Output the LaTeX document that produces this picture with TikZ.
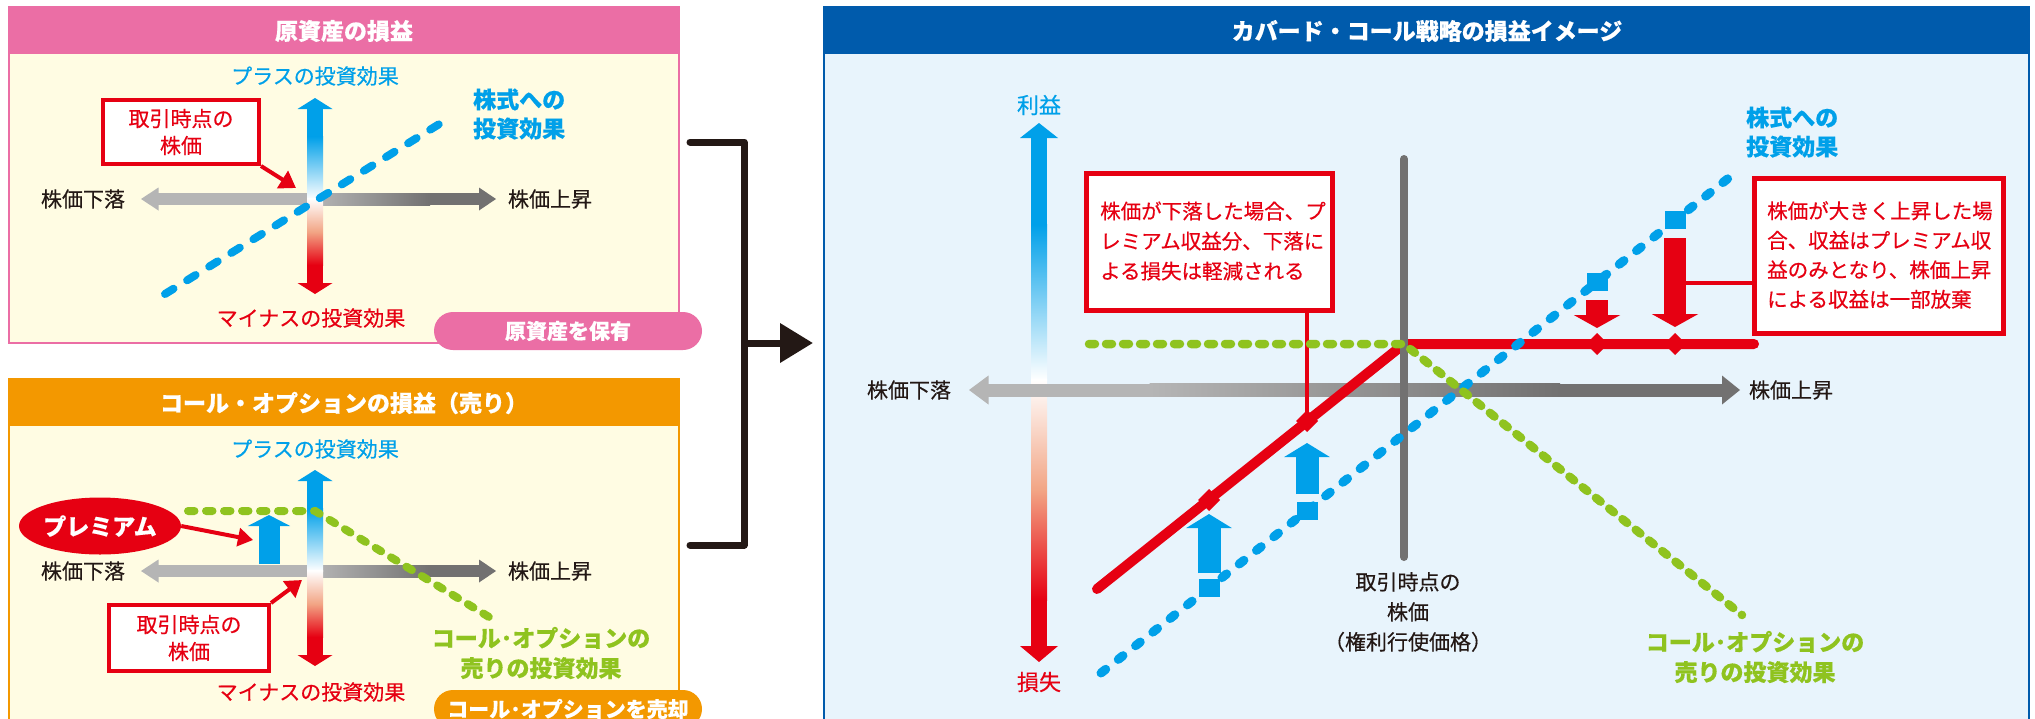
\documentclass[tikz,border=0pt]{standalone}
\usepackage{fontspec}
\setmainfont{Noto Sans CJK JP}[FakeBold=0.4]
\usetikzlibrary{arrows.meta,shapes.geometric,calc}
\definecolor{cpink}{HTML}{EB6EA5}
\definecolor{corange}{HTML}{F39800}
\definecolor{cyellow}{HTML}{FFFCE3}
\definecolor{ccyan}{HTML}{00A0E9}
\definecolor{cred}{HTML}{E60012}
\definecolor{cgreen}{HTML}{8FC31F}
\definecolor{cnavy}{HTML}{005BAC}
\definecolor{clblue}{HTML}{E8F4FC}
\definecolor{cdark}{HTML}{231815}
\definecolor{cgray}{HTML}{727171}
\definecolor{clgray}{HTML}{B5B5B5}
\definecolor{cpeach}{HTML}{F2A585}
\tikzset{
  lbl/.style={inner sep=0pt, font=\fontsize{21}{26}\selectfont},
  ttl/.style={inner sep=0pt, text=white, font=\fontsize{23}{26}\selectfont\bfseries},
  bld/.style={inner sep=0pt, font=\fontsize{23}{29}\selectfont\bfseries},
  callout/.style={draw=cred, fill=white, line width=4pt, inner sep=0pt},
  bdash/.style={draw=ccyan, line width=8pt, line cap=round, dash pattern=on 10pt off 16pt},
  gdash/.style={draw=cgreen, line width=8pt, line cap=round, dash pattern=on 6.5pt off 11.5pt},
  bdashR/.style={draw=ccyan, line width=9pt, line cap=round, dash pattern=on 6pt off 16pt},
  gdashR/.style={draw=cgreen, line width=8.5pt, line cap=round, dash pattern=on 6pt off 11pt},
  pill/.style={rounded corners=19pt, inner sep=0pt, minimum width=268pt, minimum height=38pt, text=white, font=\fontsize{21}{26}\selectfont\bfseries},
}
\newcommand{\smallaxes}[1]{%
\begin{scope}[shift={(0,#1)}]
 \fill[clgray] (158,-6) rectangle (315,6);
 \shade[left color=clgray, right color=cgray] (315,-6) rectangle (430,6);
 \fill[cgray] (429.5,-6) rectangle (480,6);
 \fill[clgray] (141,0) -- (158.5,-11.5) -- (158.5,11.5) -- cycle;
 \fill[cgray] (496,0) -- (479,-11.5) -- (479,11.5) -- cycle;
 \fill[ccyan] (315,-101) -- (332.5,-90) -- (297.5,-90) -- cycle;
 \fill[ccyan] (307,-90.5) rectangle (323,-62);
 \shade[top color=ccyan, bottom color=white] (307,-62.5) rectangle (323,0);
 \shade[top color=white, bottom color=cred, middle color=cpeach] (307,-0.5) rectangle (323,66);
 \fill[cred] (307,65.5) rectangle (323,84.5);
 \fill[cred] (315,95) -- (332.5,84) -- (297.5,84) -- cycle;
\end{scope}}
\begin{document}
\begin{tikzpicture}[x=1pt,y=-1pt]
\useasboundingbox (0,0) rectangle (2035,718);
\clip (0,0) rectangle (2035,718);
\fill[white] (0,0) rectangle (2035,718);

%% ---------------- Panel A ----------------
\fill[cyellow] (9,7) rectangle (679,343);
\fill[cpink] (9,7) rectangle (679,54);
\draw[cpink, line width=1.5pt] (9,7) rectangle (679,343);
\node[ttl] (tA) at (344,31) {原資産の損益};
\smallaxes{199}
\node[lbl, text=ccyan] (pA) at (315,76) {プラスの投資効果};
\node[lbl, text=cred] (mA) at (311,318) {マイナスの投資効果};
\node[lbl, text=cdark] (dA) at (83,199) {株価下落};
\node[lbl, text=cdark] (uA) at (550,199) {株価上昇};
\coordinate (sA1) at (165,294);
\coordinate (sA2) at (449,118);
\draw[bdash] (sA1) -- (sA2);
\node[bld, text=ccyan, align=left, anchor=west] (eA) at (473,114) {株式への\\投資効果};
\node[callout, minimum width=156pt, minimum height=64pt] (cA) at (181,132) {};
\node[lbl, text=cred, align=center, font=\fontsize{21}{27}\selectfont] (cAt) at (cA) {取引時点の\\株価};
\coordinate (cAtip) at (296,188);
\draw[cred, line width=4pt, -{Triangle[length=16pt,width=20pt]}] (cA.south east) -- (cAtip);
\node[pill, fill=cpink] (hA) at (568,331) {原資産を保有};

%% ---------------- Panel B ----------------
\fill[cyellow] (9,379) rectangle (679,740);
\fill[corange] (9,379) rectangle (679,426);
\draw[corange, line width=1.5pt] (9,379) rectangle (679,740);
\node[ttl] (tB) at (344,403) {コール・オプションの損益（売り）};
\smallaxes{571}
\node[lbl, text=ccyan] (pB) at (315,449) {プラスの投資効果};
\node[lbl, text=cred] (mB) at (311,692) {マイナスの投資効果};
\node[lbl, text=cdark] (dB) at (83,571) {株価下落};
\node[lbl, text=cdark] (uB) at (550,571) {株価上昇};
\coordinate (gB1) at (188,511);
\coordinate (gB2) at (315,511);
\coordinate (gB3) at (489,617);
\draw[gdash] (gB1) -- (gB2) -- (gB3);
\coordinate (upB1) at (269,564);
\coordinate (upB2) at (269,515);
\draw[ccyan, line width=21pt, -{Triangle[length=11pt,width=42pt]}] (upB1) -- (upB2);
\node[ellipse, fill=cred, minimum width=162pt, minimum height=57pt, inner sep=0pt, text=white, font=\fontsize{23}{26}\selectfont\bfseries] (prem) at (100,526) {プレミアム};
\coordinate (premtip) at (253,540);
\draw[cred, line width=4pt, -{Triangle[length=15pt,width=18pt]}] (prem.east) -- (premtip);
\node[callout, minimum width=160pt, minimum height=66pt] (cB) at (189,638) {};
\node[lbl, text=cred, align=center, font=\fontsize{21}{27}\selectfont] (cBt) at (cB) {取引時点の\\株価};
\coordinate (cBtip) at (302,580);
\draw[cred, line width=4pt, -{Triangle[length=16pt,width=20pt]}] (cB.north east) -- (cBtip);
\node[bld, text=cgreen, align=center, font=\fontsize{23}{30}\selectfont\bfseries] (gB) at (541,653) {コール･オプションの\\売りの投資効果};
\node[pill, fill=corange] (hB) at (568,709) {コール･オプションを売却};

%% ---------------- Bracket ----------------
\coordinate (br1) at (690,142);
\coordinate (br2) at (744,142);
\coordinate (br3) at (744,545);
\coordinate (br4) at (690,545);
\coordinate (brm) at (744,343);
\coordinate (brt) at (813,343);
\draw[cdark, line width=7pt, line cap=round, line join=round] (br1) -- (br2) -- (br3) -- (br4);
\draw[cdark, line width=7pt, -{Triangle[length=33pt,width=38pt]}] (brm) -- (brt);

%% ---------------- Panel C ----------------
\fill[clblue] (824,7) rectangle (2029,740);
\fill[cnavy] (824,7) rectangle (2029,54);
\draw[cnavy, line width=2pt] (824,7) rectangle (2029,740);
\node[ttl] (tC) at (1427,31) {カバード・コール戦略の損益イメージ};

% vertical axis
\fill[ccyan] (1039,123) -- (1058,138) -- (1020,138) -- cycle;
\fill[ccyan] (1031,137.5) rectangle (1047,225);
\shade[top color=ccyan, bottom color=white] (1031,224.5) rectangle (1047,380);
\shade[top color=white, bottom color=cred, middle color=cpeach] (1031,379.5) rectangle (1047,600);
\fill[cred] (1031,599.5) rectangle (1047,646.5);
\fill[cred] (1039,662) -- (1058,646) -- (1020,646) -- cycle;
% horizontal axis
\fill[clgray] (969,390) -- (988.5,375.5) -- (988.5,404.5) -- cycle;
\fill[clgray] (988,383.5) rectangle (1150,396.5);
\shade[left color=clgray, right color=cgray] (1149.5,383.5) rectangle (1560,396.5);
\fill[cgray] (1559.5,383.5) rectangle (1722.5,396.5);
\fill[cgray] (1740,390) -- (1722,375.5) -- (1722,404.5) -- cycle;

\node[lbl, text=ccyan, font=\fontsize{22}{26}\selectfont] (profit) at (1039,105) {利益};
\node[lbl, text=cred, font=\fontsize{22}{26}\selectfont] (loss) at (1039,682) {損失};
\node[lbl, text=cdark] (dC) at (909,390) {株価下落};
\node[lbl, text=cdark] (uC) at (1791,390) {株価上昇};

% payoff lines
\coordinate (rA) at (1097,589);
\coordinate (rK) at (1404,344);
\coordinate (rB) at (1754,344);
\draw[cred, line width=10pt, line cap=round, line join=round] (rA) -- (rK) -- (rB);
\coordinate (st1) at (1404,159);
\coordinate (st2) at (1404,557);
\draw[cgray, line width=8pt, line cap=round] (st1) -- (st2);
\coordinate (bl1) at (1101,673);
\coordinate (bl2) at (1735,173);
\draw[bdashR] (bl1) -- (bl2);

% callout boxes and connectors
\node[callout, line width=5pt, minimum width=246pt, minimum height=137pt] (cC1) at (1209,242) {};
\node[callout, line width=5pt, minimum width=249pt, minimum height=155pt] (cC2) at (1878.5,255.5) {};
\coordinate (m1) at (1209,500);
\coordinate (m2) at (1307,421);
\coordinate (m3) at (1597,344);
\coordinate (m4) at (1675,344);
\coordinate (a4) at (1675,283);
\draw[cred, line width=4pt] (m2) -- (m2 |- cC1.south);
\draw[cred, line width=4pt] (a4) -- (a4 -| cC2.west);

\coordinate (gC1) at (1089,344);
\coordinate (gC3) at (1742,615);
\draw[gdashR] (gC1) -- (rK) -- (gC3);

% markers on red line
\foreach \p in {m1,m2,m3,m4}{
  \fill[cred] ($(\p)+(0,-11)$) -- ($(\p)+(11,0)$) -- ($(\p)+(0,11)$) -- ($(\p)+(-11,0)$) -- cycle;
}
% squares on blue line
\coordinate (q1) at (1209,588);
\coordinate (q2) at (1307,511);
\coordinate (q3) at (1597,282);
\coordinate (q4) at (1675,220);
\foreach \p in {q1,q2,q3,q4}{
  \fill[ccyan] ($(\p)+(-10.5,-9)$) rectangle ($(\p)+(10.5,9)$);
}
% blue up arrows
\draw[ccyan, line width=23pt, -{Triangle[length=14pt,width=45pt]}] (1209,573) -- (1209,514);
\draw[ccyan, line width=23pt, -{Triangle[length=14pt,width=45pt]}] (1307,494) -- (1307,443);
% red down arrows
\draw[cred, line width=22pt, -{Triangle[length=13pt,width=46pt]}] (1597,300) -- (1597,328);
\draw[cred, line width=22pt, -{Triangle[length=13pt,width=46pt]}] (1675,238) -- (1675,327);

% callout texts
\node[lbl, text=cred, align=left, anchor=west, font=\fontsize{20.5}{30}\selectfont] (cC1t) at (1100,241) {株価が下落した場合、プ\\レミアム収益分、下落に\\よる損失は軽減される};
\node[lbl, text=cred, align=left, anchor=west, font=\fontsize{20.5}{29.5}\selectfont] (cC2t) at (1767,255) {株価が大きく上昇した場\\合、収益はプレミアム収\\益のみとなり、株価上昇\\による収益は一部放棄};

% labels
\node[bld, text=ccyan, align=left, anchor=west] (eC) at (1746,132) {株式への\\投資効果};
\node[bld, text=cgreen, align=center, font=\fontsize{23}{30}\selectfont\bfseries] (gC) at (1755,657) {コール･オプションの\\売りの投資効果};
\node[lbl, text=cdark, align=center, font=\fontsize{21}{30}\selectfont] (stl) at (1408,612) {取引時点の\\株価\\（権利行使価格）};
\end{tikzpicture}
\end{document}
